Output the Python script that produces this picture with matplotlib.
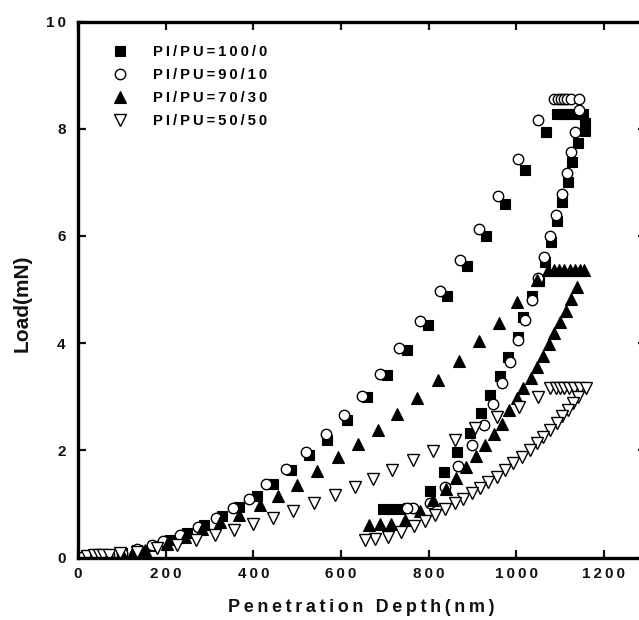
import matplotlib.pyplot as plt

# 纳米压痕 载荷-位移曲线 (加载 / 保载 / 卸载)
depth_100 = [10, 35, 65, 100, 135, 172, 210, 248, 288, 328, 368, 408, 446, 487, 528,
             569, 613, 659, 704, 750, 799, 841, 887, 930, 974, 1020, 1067,
             1092, 1105, 1118, 1130, 1142, 1153, 1157, 1156,
             1140, 1128, 1119, 1105, 1092, 1079, 1066, 1052, 1035, 1016, 1003, 982,
             963, 941, 919, 894, 864, 835, 803, 753, 735, 715, 695]
load_100 = [0.01, 0.03, 0.05, 0.09, 0.14, 0.22, 0.33, 0.45, 0.60, 0.77, 0.95, 1.15, 1.38, 1.63, 1.91,
            2.19, 2.57, 3.00, 3.40, 3.87, 4.34, 4.88, 5.43, 5.99, 6.59, 7.23, 7.93,
            8.28, 8.28, 8.28, 8.28, 8.28, 8.28, 8.10, 7.95,
            7.73, 7.37, 7.01, 6.64, 6.27, 5.89, 5.52, 5.15, 4.87, 4.49, 4.12, 3.75,
            3.39, 3.03, 2.69, 2.33, 1.96, 1.59, 1.24, 0.92, 0.90, 0.90, 0.90]

depth_90 = [10, 40, 70, 100, 135, 168, 195, 233, 274, 316, 353, 391, 430, 475, 520,
            566, 607, 647, 689, 733, 780, 827, 872, 916, 959, 1005, 1050,
            1086, 1096, 1103, 1109, 1115, 1125, 1144,
            1143, 1134, 1124, 1115, 1104, 1090, 1077, 1063, 1049, 1035, 1020, 1005,
            986, 967, 946, 926, 898, 868, 837, 803, 765, 750]
load_90 = [0.01, 0.03, 0.05, 0.08, 0.15, 0.23, 0.31, 0.42, 0.57, 0.74, 0.92, 1.10, 1.37, 1.65, 1.96,
           2.30, 2.65, 3.01, 3.42, 3.90, 4.41, 4.98, 5.55, 6.13, 6.75, 7.43, 8.16,
           8.55, 8.55, 8.55, 8.55, 8.55, 8.55, 8.55,
           8.35, 7.94, 7.57, 7.17, 6.79, 6.39, 6.00, 5.60, 5.21, 4.80, 4.43, 4.05,
           3.65, 3.25, 2.86, 2.47, 2.10, 1.71, 1.32, 1.02, 0.93, 0.92]

depth_70 = [20, 45, 70, 100, 125, 153, 202, 244, 282, 324, 368, 415, 457, 499, 546,
            594, 640, 684, 727, 773, 822, 869, 916, 960, 1002, 1048,
            1072, 1085, 1098, 1110, 1122, 1134, 1145, 1155,
            1138, 1126, 1113, 1100, 1086, 1075, 1060, 1047, 1033, 1016, 1001, 984,
            967, 949, 929, 907, 885, 862, 840, 811, 780, 745, 715, 690, 665]
load_70 = [0.02, 0.03, 0.04, 0.07, 0.10, 0.14, 0.26, 0.38, 0.53, 0.67, 0.80, 0.98, 1.15, 1.35, 1.61,
           1.88, 2.11, 2.38, 2.68, 2.98, 3.32, 3.67, 4.03, 4.38, 4.76, 5.18,
           5.36, 5.36, 5.36, 5.36, 5.36, 5.36, 5.36, 5.36,
           5.05, 4.82, 4.60, 4.40, 4.19, 3.98, 3.76, 3.56, 3.34, 3.16, 2.97, 2.75,
           2.50, 2.30, 2.10, 1.90, 1.69, 1.48, 1.27, 1.07, 0.87, 0.70, 0.63, 0.62, 0.60]

depth_50 = [20, 37, 47, 58, 70, 96, 134, 180, 225, 269, 313, 356, 399, 444, 490,
            539, 586, 632, 674, 717, 764, 811, 860, 906, 955, 1006, 1050,
            1078, 1090, 1100, 1110, 1120, 1132, 1145, 1158,
            1141, 1130, 1119, 1105, 1092, 1077, 1062, 1047, 1031, 1012, 993, 974,
            955, 936, 917, 898, 879, 860, 837, 815, 792, 767, 738, 708, 678, 655]
load_50 = [0.02, 0.04, 0.04, 0.05, 0.05, 0.08, 0.11, 0.17, 0.23, 0.33, 0.42, 0.51, 0.62, 0.74, 0.87,
           1.02, 1.16, 1.31, 1.47, 1.63, 1.81, 1.99, 2.20, 2.41, 2.63, 2.81, 3.00,
           3.16, 3.16, 3.16, 3.16, 3.16, 3.16, 3.16, 3.16,
           3.00, 2.89, 2.76, 2.64, 2.51, 2.38, 2.25, 2.13, 2.01, 1.88, 1.76, 1.63,
           1.51, 1.40, 1.29, 1.20, 1.10, 1.01, 0.90, 0.79, 0.69, 0.58, 0.48, 0.39, 0.34, 0.33]

labels = ['PI/PU=100/0', 'PI/PU=90/10', 'PI/PU=70/30', 'PI/PU=50/50']
xticks = [0, 200, 400, 600, 800, 1000, 1200]
yticks = [0, 2, 4, 6, 8, 10]

plt.rcParams['font.family'] = ['Liberation Sans', 'DejaVu Sans']
plt.rcParams['font.weight'] = 'bold'

def spaced(s):
    return '\u2009'.join(s)

fig = plt.figure(figsize=(6.39, 6.20), dpi=100)
ax = fig.add_axes([78 / 639, 62.5 / 620, 568 / 639, 536 / 620])

ax.plot(depth_100, load_100, 's', ms=7, mfc='black', mec='black', mew=0.8, label=spaced(labels[0]))
ax.plot(depth_90, load_90, 'o', ms=7.5, mfc='white', mec='black', mew=1.0, label=spaced(labels[1]))
ax.plot(depth_70, load_70, '^', ms=8.5, mfc='black', mec='black', mew=0.8, label=spaced(labels[2]))
ax.plot(depth_50, load_50, 'v', ms=8.5, mfc='white', mec='black', mew=1.0, label=spaced(labels[3]))

ax.set_xlim(0, 1296)
ax.set_ylim(0, 10)
ax.set_xticks(xticks)
ax.set_yticks(yticks)
ax.set_xticklabels([spaced(str(v)) for v in xticks])
ax.set_yticklabels([spaced(str(v)) for v in yticks])

for sp in ax.spines.values():
    sp.set_linewidth(2.4)
ax.tick_params(direction='in', length=6, width=1.6, top=True, right=True,
               labelsize=11, colors='#111111')
ax.tick_params(axis='x', pad=7)
ax.tick_params(axis='y', pad=9)
for t in ax.get_xticklabels() + ax.get_yticklabels():
    t.set_fontweight('bold')

fig.text(361 / 639, 1 - 608 / 620, spaced('Penetration') + '\u2009 \u2009' + spaced('Depth(nm)'),
         ha='center', va='center', fontsize=13, fontweight='bold', color='#111111')
fig.text(22 / 639, 1 - 303 / 620, 'Load(mN)', rotation=90, ha='center', va='center',
         fontsize=15, fontweight='bold', color='#111111')

leg = ax.legend(loc='upper left', bbox_to_anchor=(0.05, 0.967), frameon=False,
                handlelength=1.0, handletextpad=1.75, labelspacing=0.62,
                prop={'size': 10.6, 'weight': 'bold'}, borderaxespad=0)

fig.savefig('out.png', dpi=100)
